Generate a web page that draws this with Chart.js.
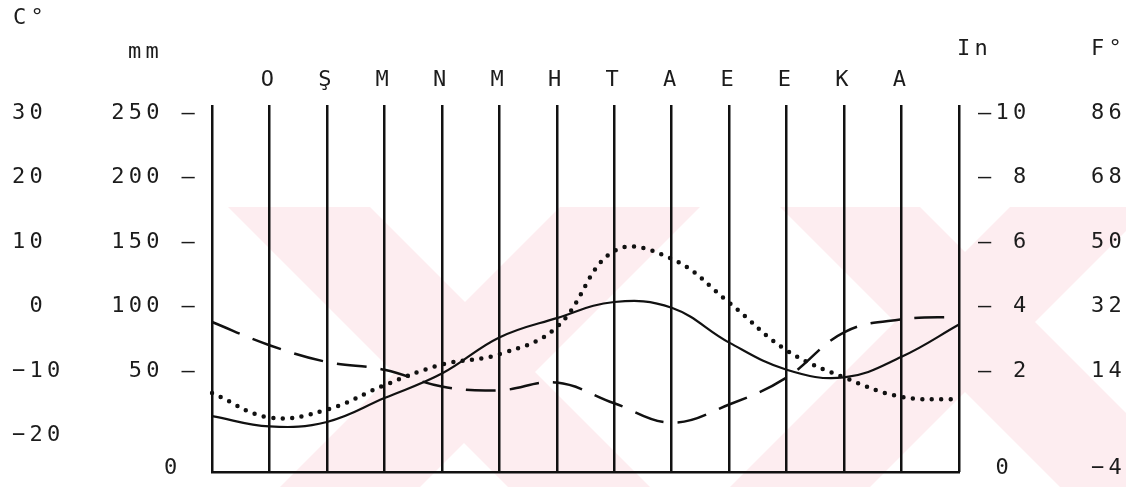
<!DOCTYPE html>
<html>
<head>
<meta charset="utf-8">
<script src="https://cdn.jsdelivr.net/npm/chart.js@4.4.1/dist/chart.umd.min.js"></script>
<style>
  html, body { margin: 0; padding: 0; background: #fff; }
  #wrap { width: 1126px; height: 487px; }
</style>
</head>
<body>
<div id="wrap"><canvas id="chart"></canvas></div>
<script>
// columns: the first and last are the frame edges, months sit on the lines between
const months = ['', 'O', 'Ş', 'M', 'N', 'M', 'H', 'T', 'A', 'E', 'E', 'K', 'A', ''];

const solidLine  = [15, 7, 10.5, 29, 48, 76, 91, 103.5, 99, 72, 51, 45, 61, 86];
const dottedLine = [33, 14, 20, 39, 55, 63, 84, 143, 137, 103, 66, 45, 30, 28];
const dashedLine = [88, 70, 57, 51, 38, 35, 41, 25, 10, 24, 45, 80, 90, 92];

// tick labels of the four side scales
const cTicks  = [-20, -10, 0, 10, 20, 30];
const mmTicks = [0, 50, 100, 150, 200, 250];
const inTicks = [0, 2, 4, 6, 8, 10];
const fTicks  = [-4, 14, 32, 50, 68, 86];

// mm range of the plot box, other scales follow from it
const mmMin = -28.3, mmMax = 256.2;
const baseMm = mmMin + 3; // the "0" row is printed on the bottom line
const toC = mm => mm / 5 - 20;
const toIn = mm => mm / 25;
const toF = mm => mm * 0.36 - 4;

const FONT = { family: "'DejaVu Sans Mono', monospace", size: 22 };
const INK = '#1c1c1c';
const SPACING = '4.3px';

// printer style numbers: real minus sign
const num = v => String(v).replace('-', '−');

const spacingPlugin = {
  id: 'spacing',
  beforeUpdate(chart) { chart.ctx.letterSpacing = SPACING; },
  beforeDraw(chart) {
    const ctx = chart.ctx;
    ctx.letterSpacing = SPACING;
    // faint pink watermark behind the frame
    ctx.save();
    ctx.fillStyle = '#fdedf0';
    ctx.beginPath();
    ctx.rect(0, 207, chart.width, chart.height - 207);
    ctx.clip();
    const bands = [
      [228, 370, 280], [560, 700, -280],
      [780, 920, 280], [1010, 1150, -280]
    ];
    bands.forEach(([a, b, d]) => {
      ctx.beginPath();
      ctx.moveTo(a, 207); ctx.lineTo(b, 207);
      ctx.lineTo(b + d, 487); ctx.lineTo(a + d, 487);
      ctx.closePath();
      ctx.fill();
    });
    ctx.restore();
  },
  afterDraw(chart) {
    const ctx = chart.ctx;
    const s = chart.scales;
    ctx.save();
    ctx.letterSpacing = SPACING;
    ctx.font = `${FONT.size}px ${FONT.family}`;
    ctx.fillStyle = INK;
    ctx.textBaseline = 'middle';
    ctx.textAlign = 'left';
    ctx.fillText('C°', s.yC.left + 1, 18);
    ctx.fillText('mm', s.yMm.left + 56, 52);
    ctx.fillText('In', chart.chartArea.right - 2, 49);
    ctx.textAlign = 'right';
    ctx.fillText('F°', s.yF.right, 49);
    ctx.restore();
  }
};

function fixWidth(w) {
  return scale => { scale.width = w; scale.paddingTop = 0; scale.paddingBottom = 0; };
}
function fixHeight(h) {
  return scale => { scale.height = h; scale.paddingLeft = 0; scale.paddingRight = 0; };
}

const sideTicks = { font: FONT, color: INK, autoSkip: false };

new Chart(document.getElementById('chart'), {
  type: 'line',
  data: {
    labels: months,
    datasets: [
      {
        label: 'solid',
        data: solidLine,
        borderColor: '#111',
        borderWidth: 2.2,
        tension: 0.4,
        pointRadius: 0,
        yAxisID: 'yMm'
      },
      {
        label: 'dotted',
        data: dottedLine,
        borderColor: '#111',
        borderWidth: 4.5,
        borderDash: [0, 9.5],
        borderCapStyle: 'round',
        tension: 0.4,
        pointRadius: 0,
        yAxisID: 'yMm'
      },
      {
        label: 'dashed',
        data: dashedLine,
        borderColor: '#111',
        borderWidth: 2.5,
        borderDash: [30, 14],
        tension: 0.4,
        pointRadius: 0,
        yAxisID: 'yMm'
      }
    ]
  },
  options: {
    responsive: true,
    maintainAspectRatio: false,
    animation: false,
    layout: { padding: { left: 12, right: 0, top: 0, bottom: 0 } },
    plugins: { legend: { display: false }, tooltip: { enabled: false } },
    scales: {
      x: {
        position: 'top',
        offset: false,
        grid: { display: true, drawTicks: false, color: '#111', lineWidth: 2.5 },
        border: { display: false },
        ticks: { font: FONT, color: INK, padding: 12, autoSkip: false, maxRotation: 0 },
        afterFit: fixHeight(105)
      },
      xb: {
        type: 'category',
        position: 'bottom',
        labels: months,
        offset: false,
        grid: { display: false },
        border: { display: true, color: '#111', width: 2.5 },
        ticks: { display: false },
        afterFit: fixHeight(15)
      },
      yMm: {
        type: 'linear', position: 'left', weight: 0,
        min: mmMin, max: mmMax,
        grid: { display: false }, border: { display: false },
        afterBuildTicks: scale => {
          scale.ticks = mmTicks.map((v, i) => ({ value: i === 0 ? baseMm : v }));
        },
        ticks: Object.assign({}, sideTicks, {
          crossAlign: 'near', padding: 5,
          callback: (v, i) => i === 0 ? num(mmTicks[0]).padStart(4) + ' '
                                      : num(mmTicks[i]).padStart(3) + ' –'
        }),
        afterFit: fixWidth(140)
      },
      yC: {
        type: 'linear', position: 'left', weight: 1,
        min: toC(mmMin), max: toC(mmMax),
        grid: { display: false }, border: { display: false },
        afterBuildTicks: scale => {
          scale.ticks = cTicks.map(v => ({ value: v }));
        },
        ticks: Object.assign({}, sideTicks, {
          crossAlign: 'far', padding: 0,
          callback: (v, i) => num(cTicks[i]).padStart(2)
        }),
        afterFit: fixWidth(60)
      },
      yIn: {
        type: 'linear', position: 'right', weight: 0,
        min: toIn(mmMin), max: toIn(mmMax),
        grid: { display: false }, border: { display: false },
        afterBuildTicks: scale => {
          scale.ticks = inTicks.map((v, i) => ({ value: i === 0 ? toIn(baseMm) : v }));
        },
        ticks: Object.assign({}, sideTicks, {
          crossAlign: 'near', padding: 11,
          callback: (v, i) => i === 0 ? ' ' + num(inTicks[0])
                                      : '–' + num(inTicks[i]).padStart(2)
        }),
        afterFit: fixWidth(80)
      },
      yF: {
        type: 'linear', position: 'right', weight: 1,
        min: toF(mmMin), max: toF(mmMax),
        grid: { display: false }, border: { display: false },
        afterBuildTicks: scale => {
          scale.ticks = fTicks.map((v, i) => ({ value: i === 0 ? toF(baseMm) : v }));
        },
        ticks: Object.assign({}, sideTicks, {
          crossAlign: 'far', padding: 0,
          callback: (v, i) => num(fTicks[i])
        }),
        afterFit: fixWidth(87)
      }
    }
  },
  plugins: [spacingPlugin]
});
</script>
</body>
</html>
